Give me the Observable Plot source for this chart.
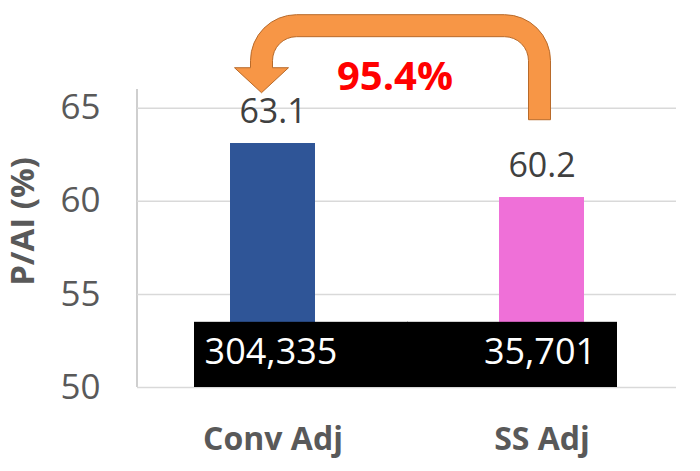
<!DOCTYPE html>
<html><head><meta charset="utf-8">
<script src="https://cdn.jsdelivr.net/npm/d3@7"></script>
<script src="https://cdn.jsdelivr.net/npm/@observablehq/plot@0.6"></script>
<style>
html,body{margin:0;padding:0;background:#fff;}
#chart{width:700px;height:471px;}
</style></head><body><div id="chart"></div>
<script>
const categories = ["Conv Adj", "SS Adj"];
const values = [63.1, 60.2];
const sampleSizes = ["304,335", "35,701"];
const yTicks = [50, 55, 60, 65];
const yDomain = [50, 66];
const boxTop = 53.5;
const changeLabel = "95.4%";
const yTitle = "P/AI (%)";
const barColors = ["#2F5597", "#EF70D8"];
// arrow (data units on y): start above SS bar, top of loop, tip above Conv bar
const arrowStart = 64.35, arrowTop = 69.4, arrowTip = 65.8;

const data = categories.map((c, i) => ({cat: c, value: values[i], n: sampleSizes[i]}));
const FONT = "'Open Sans', sans-serif";

const plot = Plot.plot({
  width: 700, height: 471,
  marginLeft: 137, marginRight: 24, marginTop: 89, marginBottom: 84,
  style: {fontFamily: FONT, background: "#fff", overflow: "visible"},
  x: {domain: categories, padding: 0, axis: null},
  y: {domain: yDomain, axis: null},
  color: {domain: categories, range: barColors},
  marks: [
    Plot.gridY(yTicks, {stroke: "#D9D9D9", strokeOpacity: 1, strokeWidth: 1.5}),
    Plot.barY(data, {x: "cat", y1: () => yDomain[0], y2: "value", fill: "cat", insetLeft: 92, insetRight: 92}),
    Plot.barY(data.slice(0, 1), {x: "cat", y1: () => yDomain[0], y2: () => boxTop, fill: "black", insetLeft: 56, insetRight: -1}),
    Plot.barY(data.slice(1, 2), {x: "cat", y1: () => yDomain[0], y2: () => boxTop, fill: "black", insetLeft: 0, insetRight: 59}),
    Plot.text(data, {x: "cat", y: () => (yDomain[0] + boxTop) / 2, text: "n", fill: "white", fontSize: 36, dx: -2, dy: -2.5}),
    Plot.text(data, {x: "cat", y: "value", text: d => d.value.toFixed(1), fill: "#404040", fontSize: 34, dy: -31}),
    Plot.axisY(yTicks, {tickSize: 0, tickPadding: 37, fontSize: 35, color: "#595959", label: null}),
    Plot.axisX({tickSize: 0, tickPadding: 40, fontSize: 32, fontWeight: "bold", color: "#595959", label: null}),
    Plot.text([yTitle], {frameAnchor: "left", textAnchor: "middle", lineAnchor: "middle", rotate: -90, dx: -114, dy: -17, fontSize: 33, fontWeight: "bold", fill: "#595959"}),
    Plot.text([changeLabel], {frameAnchor: "top", textAnchor: "middle", lineAnchor: "middle", dx: -12, dy: -12, fontSize: 40, fontWeight: "bold", fill: "#FF0000"})
  ]
});

document.getElementById("chart").appendChild(plot);

// axis line and the curved arrow, positioned through the plot's scales
const xs = plot.scale("x"), ys = plot.scale("y");
const bw = xs.bandwidth;
const xc = c => xs.apply(c) + bw / 2;
const svg = d3.select(plot);

svg.insert("line", ":first-child")
  .attr("x1", xs.range[0]).attr("x2", xs.range[0])
  .attr("y1", ys.apply(yDomain[1])).attr("y2", ys.apply(yDomain[0]))
  .attr("stroke", "#BFBFBF").attr("stroke-width", 1.5);

const cxR = xc(categories[1]) - 2;
const cxL = xc(categories[0]) - 11;
const yB = ys.apply(arrowStart);
const yT = ys.apply(arrowTop);
const yTipPx = ys.apply(arrowTip);
const hw = 11, Ro = 46, Ri = 24, hh = 27, headLen = 25;
const yHB = yTipPx - headLen;
const p = [
  `M${cxR + hw},${yB}`,
  `L${cxR + hw},${yT - hw + Ro}`,
  `A${Ro},${Ro} 0 0 0 ${cxR + hw - Ro},${yT - hw}`,
  `L${cxL - hw + Ro},${yT - hw}`,
  `A${Ro},${Ro} 0 0 0 ${cxL - hw},${yT - hw + Ro}`,
  `L${cxL - hw},${yHB}`,
  `L${cxL - hh},${yHB}`,
  `L${cxL},${yTipPx}`,
  `L${cxL + hh},${yHB}`,
  `L${cxL + hw},${yHB}`,
  `L${cxL + hw},${yT + hw + Ri}`,
  `A${Ri},${Ri} 0 0 1 ${cxL + hw + Ri},${yT + hw}`,
  `L${cxR - hw - Ri},${yT + hw}`,
  `A${Ri},${Ri} 0 0 1 ${cxR - hw},${yT + hw + Ri}`,
  `L${cxR - hw},${yB}`,
  "Z"
].join(" ");
svg.append("path").attr("d", p)
  .attr("fill", "#F79646").attr("stroke", "#B86A2A").attr("stroke-width", 1);
</script>
</body></html>
